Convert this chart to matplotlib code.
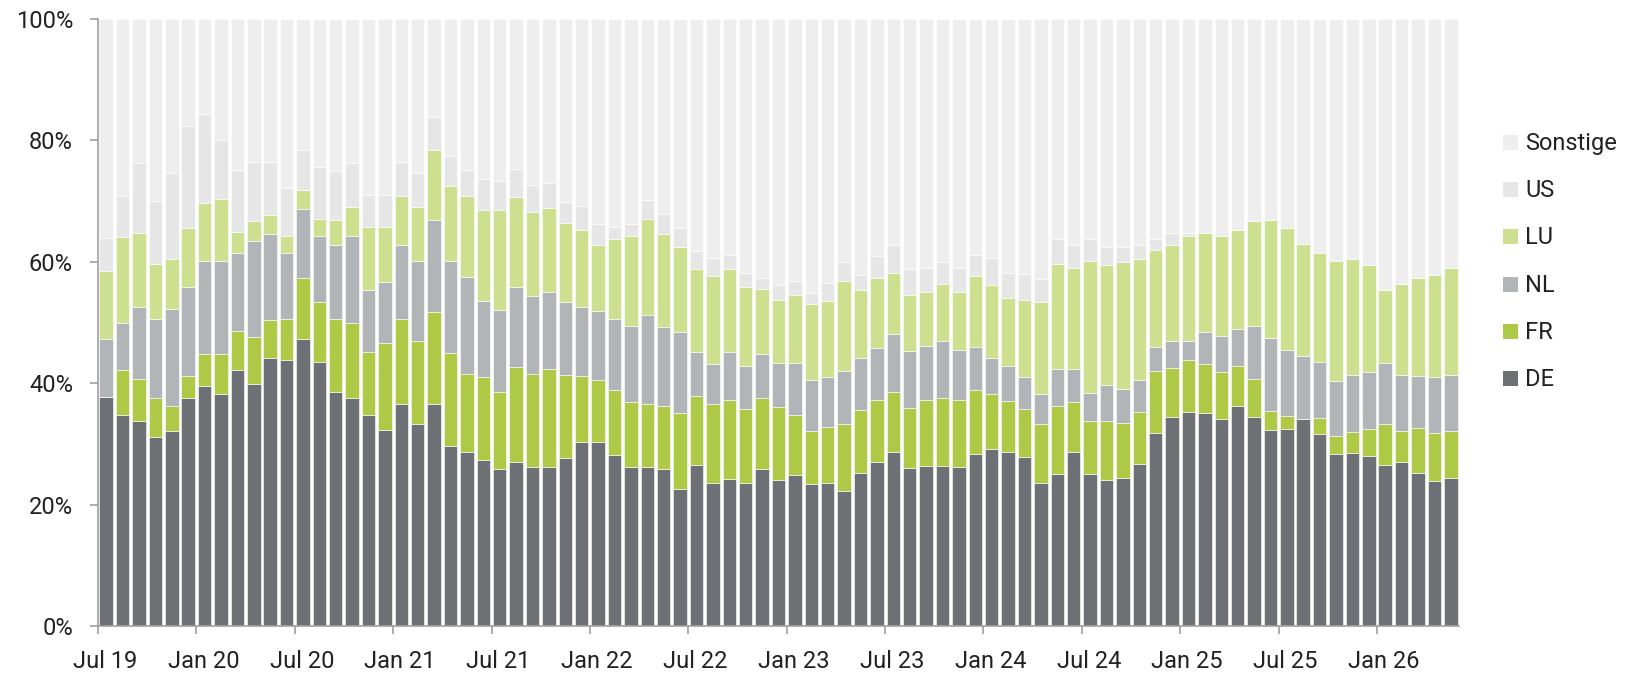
import matplotlib
matplotlib.use("Agg")
import matplotlib.pyplot as plt
from matplotlib.patches import Rectangle
from matplotlib.transforms import ScaledTranslation
import numpy as np

plt.rcParams['font.family'] = ['Roboto', 'DejaVu Sans']

# months Jul 19 .. May 26
months = ["Jul 19", "Aug 19", "Sep 19", "Oct 19", "Nov 19", "Dec 19",
          "Jan 20", "Feb 20", "Mar 20", "Apr 20", "May 20", "Jun 20",
          "Jul 20", "Aug 20", "Sep 20", "Oct 20", "Nov 20", "Dec 20",
          "Jan 21", "Feb 21", "Mar 21", "Apr 21", "May 21", "Jun 21",
          "Jul 21", "Aug 21", "Sep 21", "Oct 21", "Nov 21", "Dec 21",
          "Jan 22", "Feb 22", "Mar 22", "Apr 22", "May 22", "Jun 22",
          "Jul 22", "Aug 22", "Sep 22", "Oct 22", "Nov 22", "Dec 22",
          "Jan 23", "Feb 23", "Mar 23", "Apr 23", "May 23", "Jun 23",
          "Jul 23", "Aug 23", "Sep 23", "Oct 23", "Nov 23", "Dec 23",
          "Jan 24", "Feb 24", "Mar 24", "Apr 24", "May 24", "Jun 24",
          "Jul 24", "Aug 24", "Sep 24", "Oct 24", "Nov 24", "Dec 24",
          "Jan 25", "Feb 25", "Mar 25", "Apr 25", "May 25", "Jun 25",
          "Jul 25", "Aug 25", "Sep 25", "Oct 25", "Nov 25", "Dec 25",
          "Jan 26", "Feb 26", "Mar 26", "Apr 26", "May 26"]

DE = [37.7, 34.7, 33.7, 31.1, 32.1, 37.5, 39.6, 38.3, 42.2, 39.8, 44.2, 43.9,
      47.2, 43.5, 38.5, 37.6, 34.7, 32.3, 36.6, 33.3, 36.6, 29.6, 28.7, 27.3,
      25.8, 27.0, 26.2, 26.2, 27.7, 30.3, 30.3, 28.2, 26.2, 26.2, 25.8, 22.6,
      26.5, 23.6, 24.2, 23.6, 25.8, 24.0, 24.8, 23.4, 23.6, 22.3, 25.2, 27.1,
      28.6, 26.0, 26.3, 26.4, 26.2, 28.3, 29.1, 28.6, 27.8, 23.6, 25.1, 28.6,
      25.0, 24.0, 24.3, 26.7, 31.8, 34.5, 35.2, 35.1, 34.1, 36.2, 34.5, 32.3,
      32.4, 34.1, 31.6, 28.4, 28.5, 28.0, 26.5, 27.1, 25.2, 23.9, 24.3]
FR = [0.0, 7.4, 7.0, 6.4, 4.2, 3.7, 5.2, 6.5, 6.4, 7.8, 6.2, 6.7,
      10.2, 9.9, 12.1, 12.4, 10.5, 14.4, 14.0, 13.7, 15.1, 15.4, 12.8, 13.8,
      12.8, 15.6, 15.3, 16.2, 13.6, 10.9, 10.2, 10.7, 10.7, 10.4, 10.4, 12.5,
      11.4, 12.9, 13.0, 12.2, 11.7, 12.1, 10.0, 8.7, 9.2, 10.9, 10.4, 10.2,
      10.0, 9.9, 10.9, 11.2, 11.1, 10.5, 9.2, 8.4, 7.9, 9.7, 11.2, 8.3,
      8.8, 9.8, 9.1, 8.6, 10.2, 8.0, 8.6, 8.0, 7.7, 6.6, 6.2, 3.2,
      2.2, 0.0, 2.7, 2.9, 3.5, 4.5, 6.7, 5.0, 7.5, 7.9, 7.8]
NL = [9.5, 7.9, 11.9, 13.1, 15.9, 14.6, 15.4, 15.3, 12.8, 15.9, 14.1, 10.8,
      11.3, 10.8, 12.2, 14.2, 10.2, 10.0, 12.1, 13.1, 15.2, 15.1, 16.0, 12.4,
      13.4, 13.2, 12.8, 12.6, 12.1, 11.4, 11.4, 11.7, 12.6, 14.6, 13.1, 13.4,
      7.2, 6.7, 7.9, 7.0, 7.3, 7.2, 8.5, 8.4, 8.3, 8.8, 8.6, 8.5,
      9.5, 9.4, 8.9, 9.3, 8.2, 7.1, 5.9, 5.8, 5.4, 5.0, 6.1, 5.4,
      4.6, 5.9, 5.7, 5.2, 4.0, 4.4, 3.2, 5.4, 6.0, 6.1, 8.8, 11.9,
      10.9, 10.3, 9.2, 9.0, 9.3, 9.3, 10.2, 9.3, 8.5, 9.3, 9.3]
LU = [11.3, 14.1, 12.1, 9.0, 8.3, 9.8, 9.5, 10.2, 3.5, 3.3, 3.2, 2.9,
      3.1, 2.9, 4.1, 4.9, 10.3, 9.1, 8.2, 8.9, 11.6, 12.4, 13.4, 15.1,
      16.6, 14.9, 13.9, 13.9, 13.0, 12.6, 10.8, 13.1, 14.7, 15.8, 15.2, 13.9,
      13.7, 14.5, 13.7, 13.0, 10.8, 10.4, 11.2, 12.5, 12.4, 14.8, 11.2, 11.5,
      10.0, 9.2, 8.9, 9.4, 9.5, 11.7, 12.0, 11.3, 12.6, 15.1, 17.3, 16.7,
      21.8, 19.7, 20.8, 19.9, 15.9, 15.8, 17.2, 16.2, 16.5, 16.4, 17.3, 19.5,
      20.0, 18.6, 18.0, 19.9, 19.2, 17.7, 12.0, 15.0, 16.2, 16.7, 17.5]
US = [5.5, 6.8, 11.6, 10.4, 14.1, 16.8, 14.6, 9.8, 10.2, 9.6, 8.8, 7.9,
      6.7, 8.6, 8.1, 7.1, 5.3, 5.2, 5.5, 5.7, 5.4, 5.0, 4.3, 5.1,
      4.7, 4.6, 4.5, 4.0, 3.5, 4.0, 3.6, 2.1, 2.0, 3.1, 3.3, 3.2,
      2.9, 2.9, 2.4, 2.4, 1.8, 2.4, 2.4, 1.9, 3.0, 3.1, 2.5, 3.6,
      4.6, 4.3, 3.9, 3.6, 3.9, 3.6, 4.5, 4.1, 4.3, 3.8, 4.0, 3.7,
      3.6, 3.0, 2.6, 2.3, 1.8, 2.0, 0.6, 0.1, 0.0, 0.0, 0.0, 0.0,
      0.0, 0.0, 0.0, 0.0, 0.0, 0.0, 0.0, 0.0, 0.0, 0.0, 0.0]
Sonstige = [36.0, 29.1, 23.7, 30.0, 25.4, 17.6, 15.7, 19.9, 24.9, 23.6, 23.5, 27.8,
            21.5, 24.3, 25.0, 23.8, 29.0, 29.0, 23.6, 25.3, 16.1, 22.5, 24.8, 26.3,
            26.7, 24.7, 27.3, 27.1, 30.1, 30.8, 33.7, 34.2, 33.8, 29.9, 32.2, 34.4,
            38.3, 39.4, 38.8, 41.8, 42.6, 43.9, 43.1, 45.1, 43.5, 40.1, 42.1, 39.1,
            37.3, 41.2, 41.1, 40.1, 41.1, 38.8, 39.3, 41.8, 42.0, 42.8, 36.3, 37.3,
            36.2, 37.6, 37.5, 37.3, 36.3, 35.3, 35.2, 35.2, 35.7, 34.7, 33.2, 33.1,
            34.5, 37.0, 38.5, 39.8, 39.5, 40.5, 44.6, 43.6, 42.6, 42.2, 41.1]

series_names = ["DE", "FR", "NL", "LU", "US", "Sonstige"]
series_vals = [DE, FR, NL, LU, US, Sonstige]
colors = ["#6d7175", "#adc946", "#b2b5b8", "#cde08f", "#e6e6e6", "#eeeeee"]

y_ticks = [0, 20, 40, 60, 80, 100]
y_ticklabels = ["0%", "20%", "40%", "60%", "80%", "100%"]
x_ticklabels = ["Jul 19", "Jan 20", "Jul 20", "Jan 21", "Jul 21", "Jan 22", "Jul 22",
                "Jan 23", "Jul 23", "Jan 24", "Jul 24", "Jan 25", "Jul 25", "Jan 26"]

W, H = 1634, 673
fig = plt.figure(figsize=(W / 100, H / 100), dpi=100)
ax = fig.add_axes([98 / W, 1 - 626 / H, (1459 - 98) / W, (626 - 19) / H])

x = np.arange(len(months))
bottom = np.zeros(len(months))
for name, vals, c in zip(series_names, series_vals, colors):
    v = np.array(vals, dtype=float)
    ax.bar(x, v, bottom=bottom, width=0.82, color=c, edgecolor="white",
           linewidth=0.4, label=name, zorder=2)
    bottom += v

ax.set_xlim(-0.5, len(months) - 0.5)
ax.set_ylim(0, 100)
ax.set_yticks(y_ticks)
ax.set_yticklabels(y_ticklabels)
tick_pos = [months.index(m) - 0.5 for m in x_ticklabels]
ax.set_xticks(tick_pos)
ax.set_xticklabels(x_ticklabels)

for s in ["top", "right"]:
    ax.spines[s].set_visible(False)
for s in ["left", "bottom"]:
    ax.spines[s].set_color("#a0a0a0")
    ax.spines[s].set_linewidth(1.2)
ax.tick_params(axis="both", colors="#a0a0a0", width=1.2, length=6,
               labelsize=17, labelcolor="#222222")
ax.tick_params(axis="y", pad=12)
ax.tick_params(axis="x", pad=11)
shift = ScaledTranslation(7 / 100, 0, fig.dpi_scale_trans)
for lbl in ax.get_xticklabels():
    lbl.set_transform(lbl.get_transform() + shift)

# legend (top entry = Sonstige)
sq = 15
x0 = 1503
y_base = 150
step = 47.2
for i, (name, c) in enumerate(zip(series_names[::-1], colors[::-1])):
    yb = y_base + i * step
    fig.add_artist(Rectangle((x0 / W, 1 - yb / H), sq / W, sq / H,
                             transform=fig.transFigure, facecolor=c,
                             edgecolor="none"))
    fig.text((x0 + sq + 7) / W, 1 - yb / H, name, fontsize=17,
             color="#222222", va="baseline", ha="left")

fig.savefig("out.png", dpi=100, facecolor="white")
